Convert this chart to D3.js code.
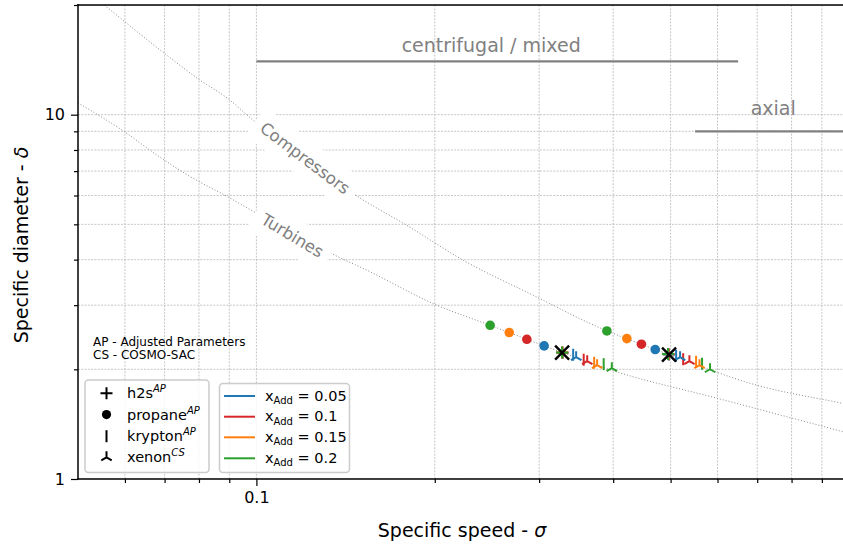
<!DOCTYPE html>
<html>
<head>
<meta charset="utf-8">
<script src="https://cdn.jsdelivr.net/npm/d3@7"></script>
<style>
  body { margin: 0; background: #fff; }
  text { font-family: "DejaVu Sans", sans-serif; }
</style>
</head>
<body>
<div id="chart"></div>
<script>
/*
 * data
 */
const xAdd = [0.05, 0.1, 0.15, 0.2]
const xAddLabels = ['0.05', '0.1', '0.15', '0.2']
const xAddColors = ['#1f77b4', '#d62728', '#ff7f0e', '#2ca02c']

const additives = ['h2s', 'propane', 'krypton', 'xenon']
const additiveModels = ['AP', 'AP', 'AP', 'CS']

// pure base fluid (black x)
const baseSigma = [0.328, 0.497]
const baseDelta = [2.224, 2.196]

// case A, lying on the turbine line
const h2sSigmaA = [0.3286, 0.3284, 0.3282, 0.3280]
const h2sDeltaA = [2.222, 2.223, 2.224, 2.225]
const propaneSigmaA = [0.3059, 0.2860, 0.2671, 0.2480]
const propaneDeltaA = [2.319, 2.418, 2.523, 2.642]
const kryptonSigmaA = [0.3424, 0.3567, 0.3715, 0.3855]
const kryptonDeltaA = [2.193, 2.125, 2.085, 2.066]
const xenonSigmaA = [0.3464, 0.3616, 0.3758, 0.3979]
const xenonDeltaA = [2.159, 2.105, 2.053, 2.014]

// case B, lying on the compressor line
const h2sSigmaB = [0.4970, 0.4962, 0.4956, 0.4950]
const h2sDeltaB = [2.198, 2.200, 2.202, 2.203]
const propaneSigmaB = [0.4710, 0.4464, 0.4218, 0.3903]
const propaneDeltaB = [2.266, 2.344, 2.429, 2.549]
const kryptonSigmaB = [0.5108, 0.5250, 0.5520, 0.5650]
const kryptonDeltaB = [2.179, 2.132, 2.098, 2.072]
const xenonSigmaB = [0.5188, 0.5379, 0.5594, 0.5828]
const xenonDeltaB = [2.159, 2.105, 2.053, 2.001]

// Cordier type lines
const compSigma = [0.0554, 0.0702, 0.0798, 0.0897, 0.0982, 0.1488, 0.1795, 0.2237, 0.2974, 0.3658, 0.497, 0.699, 0.977, 1.0]
const compDelta = [20, 14.67, 12.53, 11.04, 9.73, 5.935, 4.966, 3.981, 3.158, 2.671, 2.196, 1.809, 1.612, 1.599]
const turbSigma = [0.05, 0.0601, 0.0675, 0.0768, 0.0897, 0.0982, 0.1395, 0.1517, 0.2017, 0.248, 0.328, 0.398, 0.6, 1.0]
const turbDelta = [10.77, 8.943, 7.803, 6.805, 5.935, 5.458, 4.024, 3.779, 2.998, 2.642, 2.224, 1.988, 1.665, 1.335]

// machine type ranges
const regimes = ['centrifugal / mixed', 'axial']
const regimeDelta = [14, 9]
const regimeFrom = [0.1, 0.55]
const regimeTo = [0.65, 1.0]

// ticks
const xMajor = [0.1]
const xMajorLabels = ['0.1']
const xMinor = [0.06, 0.07, 0.08, 0.09, 0.2, 0.3, 0.4, 0.5, 0.6, 0.7, 0.8, 0.9]
const yMajor = [1, 10]
const yMajorLabels = ['1', '10']
const yMinor = [2, 3, 4, 5, 6, 7, 8, 9, 20]

/*
 * Initialize SVG
 */
const w = 843
const h = 544
const mLeft = 78, mRight = 849, mTop = 5, mBottom = 479

const svg = d3.select('#chart')
  .append('svg')
  .attr('width', w)
  .attr('height', h)

const x = d3.scaleLog().domain([0.05, 1]).range([mLeft, mRight])
const y = d3.scaleLog().domain([1, 20]).range([mBottom, mTop])

svg.append('defs').append('clipPath')
  .attr('id', 'plot-clip')
  .append('rect')
  .attr('x', mLeft).attr('y', mTop)
  .attr('width', mRight - mLeft).attr('height', mBottom - mTop)

const plot = svg.append('g').attr('clip-path', 'url(#plot-clip)')

// grid
const grid = plot.append('g').attr('id', 'grid')
grid.selectAll('line.vx')
  .data(xMajor.concat(xMinor))
  .enter()
  .append('line')
  .attr('x1', d => x(d)).attr('x2', d => x(d))
  .attr('y1', mTop).attr('y2', mBottom)
grid.selectAll('line.hy')
  .data(yMajor.concat(yMinor))
  .enter()
  .append('line')
  .attr('y1', d => y(d)).attr('y2', d => y(d))
  .attr('x1', mLeft).attr('x2', mRight)
grid.selectAll('line')
  .style('stroke', '#b8b8b8')
  .style('stroke-width', 0.8)
  .style('stroke-dasharray', '2,1.3')

// Cordier lines
const line = d3.line()
  .x(d => x(d[0]))
  .y(d => y(d[1]))
  .curve(d3.curveMonotoneX)

const curves = [d3.zip(compSigma, compDelta), d3.zip(turbSigma, turbDelta)]
plot.append('g')
  .selectAll('path')
  .data(curves)
  .enter()
  .append('path')
  .attr('d', line)
  .style('fill', 'none')
  .style('stroke', '#888')
  .style('stroke-width', 1)
  .style('stroke-dasharray', '1,2')

// labels with white boxes on the lines
const lineLabels = [
  { text: 'Compressors', s: 0.1208, d: 7.6, angle: 37 },
  { text: 'Turbines', s: 0.1150, d: 4.66, angle: 31 }
]
lineLabels.forEach(l => {
  const g = plot.append('g')
    .attr('transform', `translate(${x(l.s)},${y(l.d)}) rotate(${l.angle})`)
  const rect = g.append('rect')
  const t = g.append('text')
    .attr('text-anchor', 'middle')
    .attr('dy', '0.35em')
    .style('font-size', '16.5px')
    .style('fill', '#808080')
    .text(l.text)
  const bb = t.node().getBBox()
  const pad = 8
  rect.attr('x', bb.x - pad).attr('y', bb.y - pad)
    .attr('width', bb.width + 2 * pad).attr('height', bb.height + 2 * pad)
    .attr('rx', pad).attr('ry', pad)
    .style('fill', '#fff')
})

// machine ranges
plot.append('g')
  .selectAll('line')
  .data(regimes)
  .enter()
  .append('line')
  .attr('x1', (d, i) => x(regimeFrom[i]))
  .attr('x2', (d, i) => x(regimeTo[i]))
  .attr('y1', (d, i) => y(regimeDelta[i]))
  .attr('y2', (d, i) => y(regimeDelta[i]))
  .style('stroke', '#808080')
  .style('stroke-width', 2.2)

const regimeTextPos = [[0.249, 14.9], [0.745, 9.95]]
plot.append('g')
  .selectAll('text')
  .data(regimes)
  .enter()
  .append('text')
  .attr('x', (d, i) => x(regimeTextPos[i][0]))
  .attr('y', (d, i) => y(regimeTextPos[i][1]))
  .attr('text-anchor', 'middle')
  .style('font-size', '19px')
  .style('fill', '#808080')
  .text(d => d)

/*
 * markers
 */
const markerPath = {
  h2s: 'M-6,0H6M0,-6V6',
  krypton: 'M0,-6V6',
  xenon: 'M0,0V-6M0,0L-5.2,3M0,0L5.2,3'
}

const cases = [
  { h2s: [h2sSigmaA, h2sDeltaA], propane: [propaneSigmaA, propaneDeltaA],
    krypton: [kryptonSigmaA, kryptonDeltaA], xenon: [xenonSigmaA, xenonDeltaA] },
  { h2s: [h2sSigmaB, h2sDeltaB], propane: [propaneSigmaB, propaneDeltaB],
    krypton: [kryptonSigmaB, kryptonDeltaB], xenon: [xenonSigmaB, xenonDeltaB] }
]

const points = []
cases.forEach(c => {
  additives.forEach(a => {
    xAdd.forEach((xa, i) => {
      points.push({ additive: a, s: c[a][0][i], d: c[a][1][i], color: xAddColors[i] })
    })
  })
})

const marks = plot.append('g').attr('id', 'marks')
points.forEach(p => {
  if (p.additive === 'propane') {
    marks.append('circle')
      .attr('cx', x(p.s)).attr('cy', y(p.d))
      .attr('r', 4.8)
      .style('fill', p.color)
  } else {
    marks.append('path')
      .attr('transform', `translate(${x(p.s)},${y(p.d)})`)
      .attr('d', markerPath[p.additive])
      .style('fill', 'none')
      .style('stroke', p.color)
      .style('stroke-width', 2)
  }
})

marks.selectAll('path.base')
  .data(d3.zip(baseSigma, baseDelta))
  .enter()
  .append('path')
  .attr('transform', d => `translate(${x(d[0])},${y(d[1])})`)
  .attr('d', 'M-7,-7L7,7M-7,7L7,-7')
  .style('stroke', '#000')
  .style('stroke-width', 2.4)

/*
 * axes
 */
const axisB = svg.append('g').attr('transform', `translate(0,${mBottom})`)
axisB.append('g').call(d3.axisBottom(x).tickValues(xMinor).tickFormat('').tickSize(4))
axisB.append('g').call(d3.axisBottom(x).tickValues(xMajor)
  .tickFormat((d, i) => xMajorLabels[i]).tickSize(7).tickPadding(6))

const axisL = svg.append('g').attr('transform', `translate(${mLeft},0)`)
axisL.append('g').call(d3.axisLeft(y).tickValues(yMinor).tickFormat('').tickSize(4))
axisL.append('g').call(d3.axisLeft(y).tickValues(yMajor)
  .tickFormat((d, i) => yMajorLabels[i]).tickSize(7).tickPadding(6))

svg.selectAll('.domain').remove()
svg.selectAll('.tick line').style('stroke', '#000').style('stroke-width', 1.2)
svg.selectAll('.tick text')
  .style('font-size', '16px')
  .style('font-family', '"DejaVu Sans", sans-serif')
  .style('fill', '#000')

// spines
svg.append('g')
  .selectAll('line')
  .data([[mLeft, mTop, mRight, mTop], [mLeft, mBottom, mRight, mBottom], [mLeft, mTop, mLeft, mBottom]])
  .enter()
  .append('line')
  .attr('x1', d => d[0]).attr('y1', d => d[1])
  .attr('x2', d => d[2]).attr('y2', d => d[3])
  .style('stroke', '#000')
  .style('stroke-width', 1.5)
  .style('stroke-linecap', 'square')

// axis titles
const xTitle = svg.append('text')
  .attr('x', 462)
  .attr('y', 537)
  .attr('text-anchor', 'middle')
  .style('font-size', '19px')
xTitle.append('tspan').text('Specific speed - ')
xTitle.append('tspan').style('font-style', 'italic').text('σ')

const yTitle = svg.append('text')
  .attr('transform', `translate(28,${(mTop + mBottom) / 2 + 3}) rotate(-90)`)
  .attr('text-anchor', 'middle')
  .style('font-size', '19px')
yTitle.append('tspan').text('Specific diameter - ')
yTitle.append('tspan').style('font-style', 'italic').text('δ')

/*
 * notes and legends
 */
svg.append('text').attr('x', 93).attr('y', 346).style('font-size', '12px')
  .text('AP - Adjusted Parameters')
svg.append('text').attr('x', 93).attr('y', 358.5).style('font-size', '12px')
  .text('CS - COSMO-SAC')

function legendBox(x0, y0, x1, y1) {
  svg.append('rect')
    .attr('x', x0).attr('y', y0)
    .attr('width', x1 - x0).attr('height', y1 - y0)
    .attr('rx', 3.5)
    .style('fill', 'rgba(255,255,255,0.8)')
    .style('stroke', '#cccccc')
    .style('stroke-width', 1.5)
}

legendBox(85, 380, 209, 472.5)
const rows1 = [393.3, 414.6, 436.2, 457.3]
additives.forEach((a, i) => {
  const cy = rows1[i]
  if (a === 'propane') {
    svg.append('circle').attr('cx', 106.5).attr('cy', cy).attr('r', 4.6).style('fill', '#000')
  } else {
    svg.append('path')
      .attr('transform', `translate(106.5,${cy})`)
      .attr('d', markerPath[a])
      .style('fill', 'none')
      .style('stroke', '#000')
      .style('stroke-width', 2)
  }
  const t = svg.append('text').attr('x', 127).attr('y', cy + 5).style('font-size', '14.5px')
  t.append('tspan').text(a)
  t.append('tspan').attr('dy', -6).style('font-size', '10px').style('font-style', 'italic')
    .text(additiveModels[i])
})

legendBox(219.5, 383.5, 349.5, 472.5)
const rows2 = [396, 416.7, 437.3, 458.3]
xAdd.forEach((xa, i) => {
  const cy = rows2[i]
  svg.append('line')
    .attr('x1', 224).attr('x2', 255)
    .attr('y1', cy).attr('y2', cy)
    .style('stroke', xAddColors[i])
    .style('stroke-width', 2)
  const t = svg.append('text').attr('x', 265).attr('y', cy + 4.5).style('font-size', '14.5px')
  t.append('tspan').text('x')
  t.append('tspan').attr('dy', 3.5).style('font-size', '10px').text('Add')
  t.append('tspan').attr('dy', -3.5).text(' = ' + xAddLabels[i])
})
</script>
</body>
</html>
